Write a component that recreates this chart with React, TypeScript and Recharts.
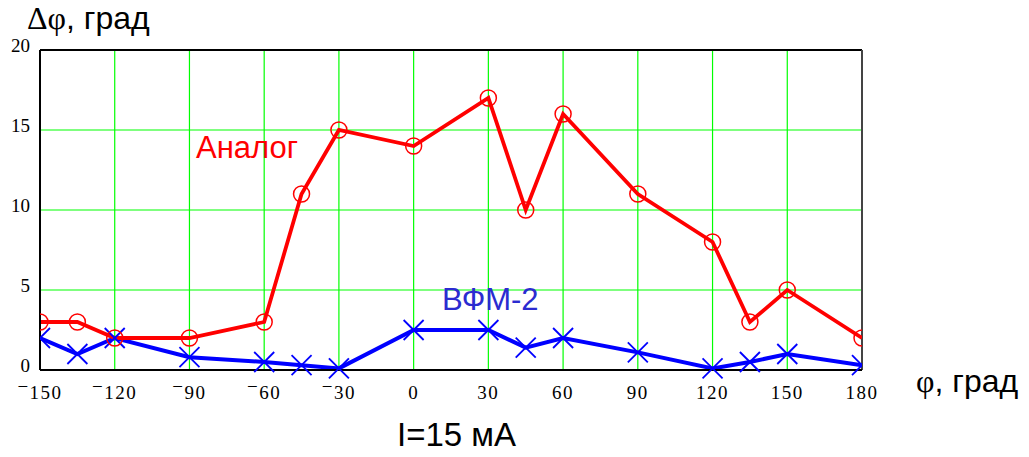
import React from 'react'
import { LineChart, Line, XAxis, YAxis, CartesianGrid, ReferenceLine } from 'recharts'

const phi = [-150, -135, -120, -90, -60, -45, -30, 0, 30, 45, 60, 90, 120, 135, 150, 180]
const analog = [3, 3, 2, 2, 3, 11, 15, 14, 17, 10, 16, 11, 8, 3, 5, 2]
const vfm2 = [2, 1, 2, 0.8, 0.5, 0.3, 0.1, 2.5, 2.5, 1.4, 2, 1.1, 0.1, 0.5, 1, 0.3]
const xTicks = [-150, -120, -90, -60, -30, 0, 30, 60, 90, 120, 150, 180]
const yTicks = [0, 5, 10, 15, 20]

const data = phi.map((p, i) => ({ phi: p, analog: analog[i], vfm2: vfm2[i] }))

const serif = '"Liberation Serif", "Times New Roman", serif'
const sans = '"Liberation Sans", Arial, sans-serif'

const XTick = ({ x, y, payload }: any) => {
  const v = payload.value as number
  const neg = v < 0
  return (
    <text x={x} y={y + 21} textAnchor="middle" fontFamily={serif} fontSize={19} fill="#000" letterSpacing={1.5}>
      {neg && <tspan dy={-6}>−</tspan>}
      <tspan dy={neg ? 6 : 0}>{Math.abs(v)}</tspan>
    </text>
  )
}

const CircleDot = ({ cx, cy }: any) => (
  <circle cx={cx} cy={cy} r={8} fill="none" stroke="#ff0000" strokeWidth={1.5} />
)

const CrossDot = ({ cx, cy }: any) => (
  <g stroke="#0000ff" strokeWidth={1.8}>
    <line x1={cx - 10} y1={cy - 10} x2={cx + 10} y2={cy + 10} />
    <line x1={cx - 10} y1={cy + 10} x2={cx + 10} y2={cy - 10} />
  </g>
)

export default function App() {
  return (
    <div style={{ position: 'absolute', left: 0, top: 0, width: 1029, height: 457, background: '#fff' }}>
      <LineChart width={1029} height={457} data={data} margin={{ top: 50, right: 167, left: 0, bottom: 0 }}>
        <CartesianGrid stroke="#00ff00" strokeWidth={1.2} horizontalValues={[5, 10, 15]} />
        <XAxis
          dataKey="phi"
          type="number"
          domain={[-150, 180]}
          ticks={xTicks}
          height={87}
          tickLine={false}
          axisLine={{ stroke: '#000', strokeWidth: 2 }}
          tick={<XTick />}
          allowDataOverflow
        />
        <YAxis
          type="number"
          domain={[0, 20]}
          ticks={yTicks}
          width={40}
          tickLine={false}
          axisLine={{ stroke: '#000', strokeWidth: 2 }}
          tick={{ fontFamily: serif, fontSize: 19, fill: '#000', dy: -5 }}
          tickMargin={4}
        />
        <ReferenceLine y={20} stroke="#000" strokeWidth={2} />
        <ReferenceLine x={180} stroke="#444" strokeWidth={2} />
        <Line
          dataKey="vfm2"
          stroke="#0000ff"
          strokeWidth={4}
          dot={<CrossDot />}
          activeDot={false}
          isAnimationActive={false}
        />
        <Line
          dataKey="analog"
          stroke="#ff0000"
          strokeWidth={3.8}
          dot={<CircleDot />}
          activeDot={false}
          isAnimationActive={false}
        />
      </LineChart>

      <div style={{ position: 'absolute', left: 27, top: 0, fontSize: 32, whiteSpace: 'nowrap', color: '#000' }}>
        <span style={{ fontFamily: serif }}>Δφ</span>
        <span style={{ fontFamily: sans }}>, град</span>
      </div>
      <div style={{ position: 'absolute', left: 196, top: 130, fontFamily: sans, fontSize: 31, color: '#ff0000' }}>
        Аналог
      </div>
      <div style={{ position: 'absolute', left: 442, top: 282, fontFamily: sans, fontSize: 31, color: '#2b2bd0' }}>
        ВФМ-2
      </div>
      <div style={{ position: 'absolute', left: 916, top: 363, fontSize: 32, whiteSpace: 'nowrap', color: '#000' }}>
        <span style={{ fontFamily: serif }}>φ</span>
        <span style={{ fontFamily: sans }}>, град</span>
      </div>
      <div style={{ position: 'absolute', left: 397, top: 416, fontFamily: sans, fontSize: 33, color: '#000', whiteSpace: 'nowrap' }}>
        I=15 мА
      </div>
    </div>
  )
}
